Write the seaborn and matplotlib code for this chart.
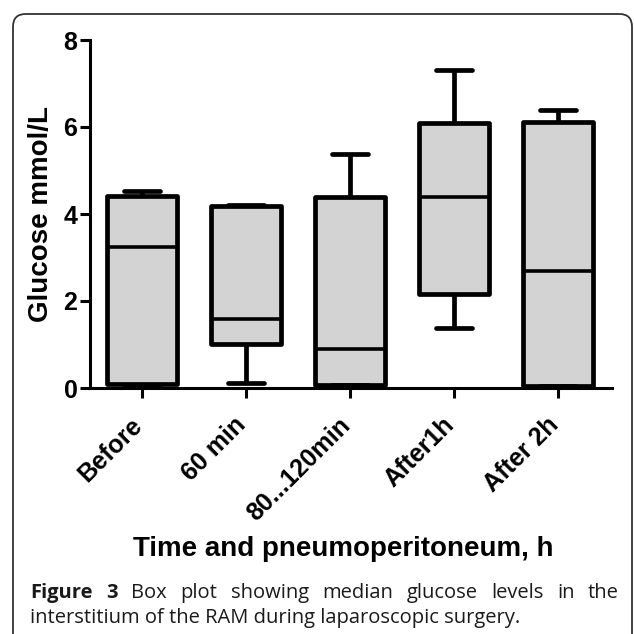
import numpy as np
import pandas as pd
import matplotlib
matplotlib.use("Agg")
import matplotlib.pyplot as plt
import matplotlib.transforms as mtransforms
from matplotlib.patches import FancyBboxPatch
import seaborn as sns

# ---- data (five-number summaries) ----
categories = ["Before", "60 min", "80...120min", "After1h", "After 2h"]
mins    = [0.08, 0.12, 0.06, 1.39, 0.04]
q1s     = [0.10, 1.01, 0.07, 2.15, 0.05]
medians = [3.25, 1.59, 0.89, 4.40, 2.70]
q3s     = [4.42, 4.19, 4.40, 6.10, 6.11]
maxs    = [4.52, 4.20, 5.39, 7.30, 6.40]
y_ticks = [0, 2, 4, 6, 8]

rows = []
for c, a, b, m, d, e in zip(categories, mins, q1s, medians, q3s, maxs):
    for v in (a, b, m, d, e):
        rows.append({"Time": c, "Glucose": v})
df = pd.DataFrame(rows)

sns.set_style("white")
plt.rcParams["font.family"] = ["Liberation Sans", "DejaVu Sans"]
plt.rcParams["font.weight"] = "bold"
plt.rcParams["text.color"] = "black"
plt.rcParams["axes.labelcolor"] = "black"
plt.rcParams["xtick.color"] = "black"
plt.rcParams["ytick.color"] = "black"

W = H = 634
fig = plt.figure(figsize=(6.34, 6.34), dpi=100)
ax = fig.add_axes([90 / W, 1 - 388 / H, (612 - 90) / W, (388 - 40) / H])

lw = 3.4
sns.boxplot(data=df, x="Time", y="Glucose", order=categories, ax=ax,
            whis=np.inf, width=0.68, color="#d3d3d3", saturation=1,
            linewidth=lw, linecolor="black",
            medianprops=dict(linewidth=2.6, color="black"),
            boxprops=dict(linewidth=lw, edgecolor="black", facecolor="#d3d3d3",
                          joinstyle="round"),
            whiskerprops=dict(linewidth=lw, color="black"),
            capprops=dict(linewidth=lw, color="black"))

ax.set_ylim(0, 8)
ax.set_xlim(-0.5, 4.52)
ax.set_yticks(y_ticks)
ax.set_yticklabels([str(t) for t in y_ticks], fontsize=18, fontweight="bold")
ax.set_xticks(range(len(categories)))
ax.set_xticklabels(categories, fontsize=18, fontweight="bold", rotation=45,
                   ha="right", va="top", rotation_mode="anchor")
for s in ("top", "right"):
    ax.spines[s].set_visible(False)
for s in ("left", "bottom"):
    ax.spines[s].set_linewidth(2.2)
    ax.spines[s].set_color("black")
ax.tick_params(axis="both", which="major", length=7, width=2.2, color="black",
               labelcolor="black", direction="out", left=True, bottom=True)
ax.tick_params(axis="y", pad=2)
ax.tick_params(axis="x", pad=11)
# nudge rotated labels left so their right ends sit under the ticks
shift = mtransforms.ScaledTranslation(-12 / 100, 0, fig.dpi_scale_trans)
for tick in ax.xaxis.get_major_ticks():
    tick.label1.set_transform(tick.label1.get_transform() + shift)
ax.set_xlabel("")
ax.set_ylabel("Glucose mmol/L", fontsize=20, fontweight="bold", labelpad=7,
              color="black")

fig.text(343 / W, 1 - 549 / H, "Time and pneumoperitoneum, h", fontsize=20,
         fontweight="bold", ha="center", va="center", color="black")

# rounded frame
frame = FancyBboxPatch((13 / W, -0.1), (632 - 13) / W, 0.1 + 1 - 14 / H,
                       boxstyle="round,pad=0,rounding_size=0.02",
                       transform=fig.transFigure, fill=False,
                       edgecolor="#333333", linewidth=1.3, clip_on=False)
fig.patches.append(frame)

# caption
cap_font = ["Open Sans", "DejaVu Sans"]
cap_color = "#1a1a1a"
cap_size = 14.5
renderer = fig.canvas.get_renderer()
line1 = [("Figure", "bold"), ("3", "bold"), ("Box", "normal"), ("plot", "normal"),
         ("showing", "normal"), ("median", "normal"), ("glucose", "normal"),
         ("levels", "normal"), ("in", "normal"), ("the", "normal")]
texts = []
for w, wt in line1:
    t = fig.text(0, 1 - 593 / H, w, fontsize=cap_size, fontweight=wt, family=cap_font,
                 color=cap_color, ha="left", va="center")
    texts.append(t)
widths = [t.get_window_extent(renderer).width for t in texts]
x0, x1 = 30, 619
gap = (x1 - x0 - sum(widths)) / (len(texts) - 1)
x = x0
for t, wd in zip(texts, widths):
    t.set_x(x / W)
    x += wd + gap

fig.text(30 / W, 1 - 618 / H, "interstitium of the RAM during laparoscopic surgery.",
         fontsize=cap_size, fontweight="normal", family=cap_font, color=cap_color,
         ha="left", va="center")

fig.savefig("out.png", dpi=100)
